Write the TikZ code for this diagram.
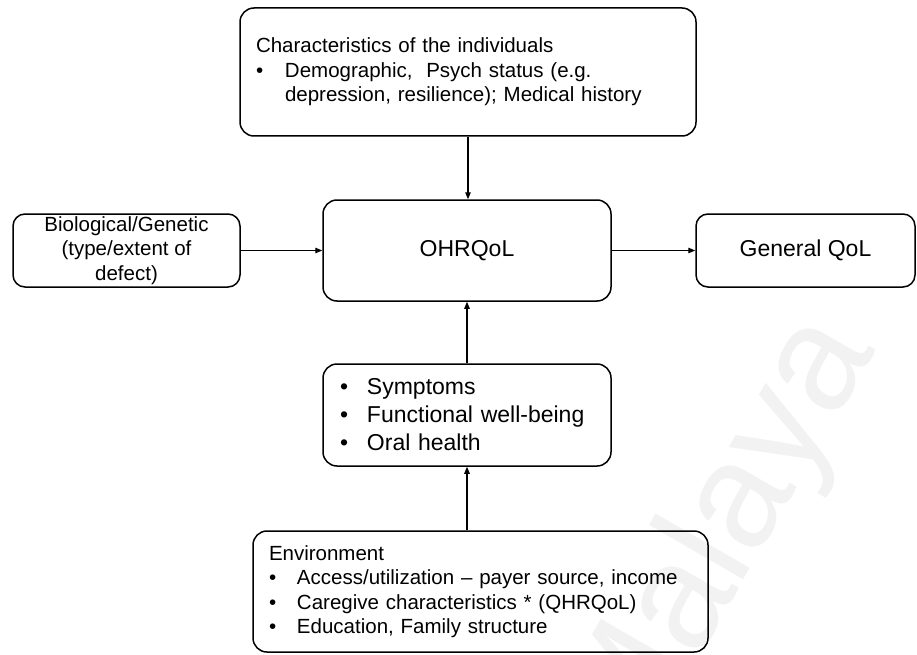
\documentclass[tikz,border=0pt]{standalone}
\usepackage{fontspec}
\setmainfont{Liberation Sans}
\usetikzlibrary{arrows.meta}

\newcommand{\bulletbox}[1]{\makebox[#1][l]{\textbullet}}

\begin{document}
\begin{tikzpicture}[x=1pt,y=1pt,yscale=-1,
    box/.style={draw, line width=1.5pt, rounded corners=14pt, inner sep=0pt},
    arr/.style={line width=1.2pt, -{Triangle[length=7pt,width=5.5pt]}},
    txtA/.style={font=\fontsize{20.5}{24.5}\selectfont},
    txtB/.style={font=\fontsize{23}{28}\selectfont}]
    \useasboundingbox (0,0) rectangle (917,655);

    % Watermark
    \node[text=black!5, rotate=60, font=\fontsize{150}{150}\selectfont] (mark) at (722,540) {Malaya};

    %Rounded Rect: individuals
    \node[box, txtA, text width=424pt, inner xsep=16pt, minimum height=128pt, align=left] (indiv) at (468,72)
        {Characteristics of the individuals\\
         \bulletbox{29pt}Demographic,\ \ Psych status (e.g.\\
         \hspace*{29pt}depression, resilience); Medical history};
    %Rounded Rect: biological
    \node[box, txtA, rounded corners=12pt, minimum width=227pt, minimum height=73pt, align=center] (bio) at (126.5,250.5)
        {Biological/Genetic\\(type/extent of\\defect)};
    %Rounded Rect: OHRQoL
    \node[box, txtB, minimum width=288pt, minimum height=101pt] (ohr) at (467,250.5) {OHRQoL};
    %Rounded Rect: general
    \node[box, txtB, rounded corners=12pt, minimum width=219pt, minimum height=73pt] (qol) at (805.5,250.5) {General QoL};
    %Rounded Rect: symptoms
    \node[box, txtB, text width=254pt, inner xsep=17pt, minimum height=102pt, align=left] (sym) at (467,415)
        {\bulletbox{27pt}Symptoms\\
         \bulletbox{27pt}Functional well-being\\
         \bulletbox{27pt}Oral health};
    %Rounded Rect: environment
    \node[box, txtA, text width=423pt, inner xsep=16pt, minimum height=121pt, align=left] (env) at (480.5,591.5)
        {Environment\\
         \bulletbox{28pt}Access/utilization \textendash\ payer source, income\\
         \bulletbox{28pt}Caregive characteristics * (QHRQoL)\\
         \bulletbox{28pt}Education, Family structure};

    %Straight Lines
    \draw[arr] (indiv.south) -- (indiv.south |- ohr.north);
    \draw[arr] (bio) -- (ohr);
    \draw[arr] (ohr) -- (qol);
    \draw[arr] (sym) -- (ohr);
    \draw[arr] (sym.south |- env.north) -- (sym.south);

\end{tikzpicture}
\end{document}
